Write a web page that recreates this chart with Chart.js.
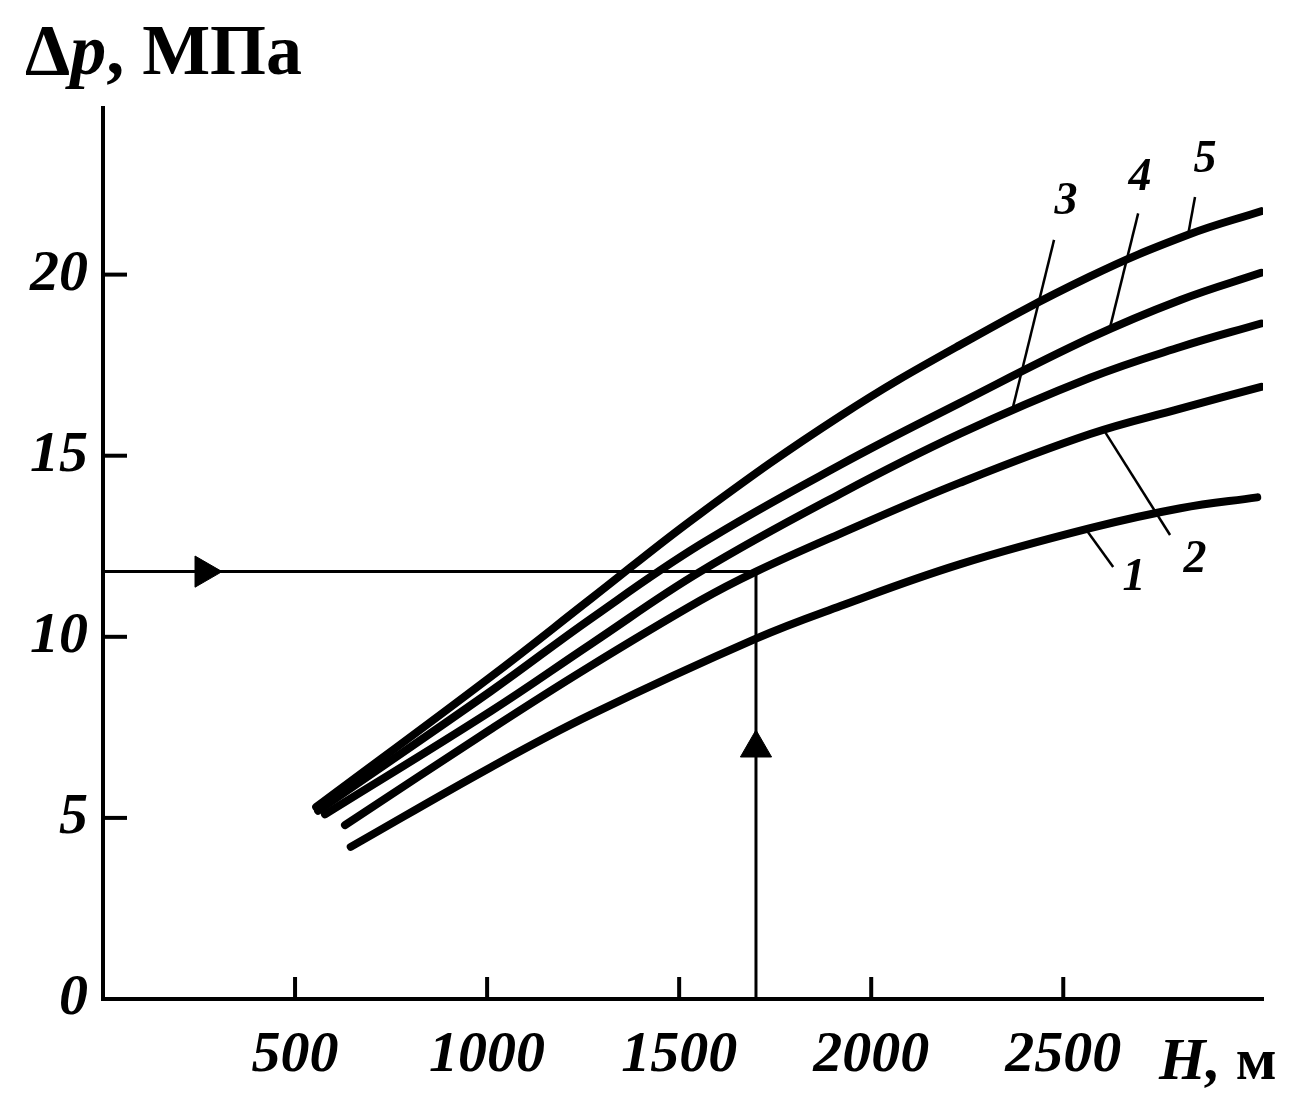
<!DOCTYPE html>
<html>
<head>
<meta charset="utf-8">
<script src="https://cdn.jsdelivr.net/npm/chart.js@4.4.0/dist/chart.umd.min.js"></script>
<style>
  body { margin: 0; background: #fff; }
  canvas { display: block; }
</style>
</head>
<body>
<canvas id="grafico" width="1307" height="1098"></canvas>
<script>
// dados: H (m) e Δp (MPa) de cada curva
var curva1H = [645, 1010, 1270, 1700, 1920, 2230, 2570, 2805, 3005];
var curva1P = [4.2, 6.4, 7.85, 9.95, 10.85, 12.0, 13.0, 13.55, 13.85];

var curva2H = [630, 1010, 1255, 1555, 1700, 1920, 2230, 2570, 2805, 3015];
var curva2P = [4.8, 7.45, 9.1, 11.0, 11.8, 12.85, 14.25, 15.6, 16.3, 16.9];

var curva3H = [578, 1010, 1270, 1555, 1920, 2230, 2570, 2805, 3015];
var curva3P = [5.1, 7.95, 9.8, 11.8, 13.95, 15.6, 17.15, 18.0, 18.65];

var curva4H = [560, 1010, 1270, 1555, 1920, 2230, 2570, 2805, 3015];
var curva4P = [5.2, 8.5, 10.5, 12.55, 14.75, 16.45, 18.25, 19.3, 20.05];

var curva5H = [555, 1010, 1270, 1555, 1920, 2230, 2570, 2825, 3015];
var curva5P = [5.3, 8.9, 11.05, 13.4, 16.1, 18.05, 19.95, 21.1, 21.75];

// linhas de construção (exemplo de leitura)
var leituraH = 1700;
var leituraP = 11.8;

// linhas de chamada dos números das curvas: [H1, P1, H2, P2]
var chamada1 = [2557, 13.0, 2630, 11.93];
var chamada2 = [2609, 15.65, 2778, 12.81];
var chamada3 = [2369, 16.34, 2476, 20.96];
var chamada4 = [2622, 18.55, 2695, 21.69];
var chamada5 = [2825, 21.1, 2843, 22.14];

// posição dos números 1..5
var numerosTexto = ["1", "2", "3", "4", "5"];
var numerosH = [2684, 2843, 2507, 2700, 2869];
var numerosP = [11.62, 12.12, 22.0, 22.67, 23.16];

var ticksX = [500, 1000, 1500, 2000, 2500];
var ticksY = [0, 5, 10, 15, 20];

function pontos(hs, ps) {
  var lista = [];
  for (var i = 0; i < hs.length; i++) {
    lista.push({ x: hs[i], y: ps[i] });
  }
  return lista;
}

function curva(hs, ps) {
  return {
    data: pontos(hs, ps),
    showLine: true,
    borderColor: "#000",
    borderWidth: 8,
    borderCapStyle: "round",
    pointRadius: 0,
    tension: 0.4,
  };
}

function linhaFina(h1, p1, h2, p2, largura) {
  return {
    data: [{ x: h1, y: p1 }, { x: h2, y: p2 }],
    showLine: true,
    borderColor: "#000",
    borderWidth: largura,
    pointRadius: 0,
  };
}

function seta(h, p, rotacao) {
  return {
    data: [{ x: h, y: p }],
    showLine: false,
    pointStyle: "triangle",
    rotation: rotacao,
    pointRadius: 18,
    backgroundColor: "#000",
    borderColor: "#000",
    borderWidth: 1,
  };
}

var fonteTicks = { family: "'Liberation Serif', 'Times New Roman', serif", size: 58, style: "italic", weight: "bold" };

// tracinhos dos eixos (para dentro) e textos
var pluginTextos = {
  id: "textos",
  afterDraw: function (chart) {
    var ctx = chart.ctx;
    var x = chart.scales.x;
    var y = chart.scales.y;
    var area = chart.chartArea;

    ctx.save();
    ctx.strokeStyle = "#000";
    ctx.lineWidth = 4;
    ticksX.forEach(function (v) {
      var px = x.getPixelForValue(v);
      ctx.beginPath();
      ctx.moveTo(px, area.bottom);
      ctx.lineTo(px, area.bottom - 22);
      ctx.stroke();
    });
    ticksY.forEach(function (v) {
      if (v == 0) return;
      var py = y.getPixelForValue(v);
      ctx.beginPath();
      ctx.moveTo(area.left, py);
      ctx.lineTo(area.left + 24, py);
      ctx.stroke();
    });

    ctx.fillStyle = "#000";
    ctx.textAlign = "center";
    ctx.textBaseline = "middle";
    ctx.font = "italic bold 46px 'Liberation Serif', serif";
    for (var i = 0; i < numerosTexto.length; i++) {
      ctx.fillText(numerosTexto[i], x.getPixelForValue(numerosH[i]), y.getPixelForValue(numerosP[i]));
    }

    // título do eixo Y
    ctx.textAlign = "left";
    ctx.textBaseline = "alphabetic";
    var tx = 25;
    var ty = 74;
    ctx.font = "bold 72px 'Liberation Serif', serif";
    ctx.fillText("Δ", tx, ty);
    tx += ctx.measureText("Δ").width;
    ctx.font = "italic bold 72px 'Liberation Serif', serif";
    ctx.fillText("p", tx, ty);
    tx += ctx.measureText("p").width;
    ctx.font = "bold 72px 'Liberation Serif', serif";
    ctx.fillText(", МПа", tx, ty);

    // título do eixo X
    var hx = area.right - 104;
    var hy = area.bottom + 80;
    ctx.font = "italic bold 60px 'Liberation Serif', serif";
    ctx.fillText("H,", hx, hy);
    hx += ctx.measureText("H, ").width;
    ctx.font = "bold 60px 'Liberation Serif', serif";
    ctx.fillText("м", hx, hy);
    ctx.restore();
  },
};

new Chart(document.getElementById("grafico"), {
  type: "scatter",
  data: {
    datasets: [
      curva(curva1H, curva1P),
      curva(curva2H, curva2P),
      curva(curva3H, curva3P),
      curva(curva4H, curva4P),
      curva(curva5H, curva5P),
      linhaFina(0, leituraP, leituraH, leituraP, 3),
      linhaFina(leituraH, 0, leituraH, leituraP, 3),
      seta(263, leituraP, 90),
      seta(leituraH, 6.93, 0),
      linhaFina(chamada1[0], chamada1[1], chamada1[2], chamada1[3], 2.5),
      linhaFina(chamada2[0], chamada2[1], chamada2[2], chamada2[3], 2.5),
      linhaFina(chamada3[0], chamada3[1], chamada3[2], chamada3[3], 2.5),
      linhaFina(chamada4[0], chamada4[1], chamada4[2], chamada4[3], 2.5),
      linhaFina(chamada5[0], chamada5[1], chamada5[2], chamada5[3], 2.5),
    ],
  },
  options: {
    responsive: false,
    animation: false,
    devicePixelRatio: 1,
    layout: { padding: { left: 0, right: 44, top: 108, bottom: 0 } },
    plugins: {
      legend: { display: false },
      tooltip: { enabled: false },
    },
    scales: {
      x: {
        type: "linear",
        min: 0,
        max: 3020,
        afterBuildTicks: function (scale) {
          scale.ticks = ticksX.map(function (v) { return { value: v }; });
        },
        afterFit: function (scale) {
          scale.height = 99;
        },
        grid: { display: false, drawTicks: false },
        border: { display: true, color: "#000", width: 4 },
        ticks: {
          color: "#000",
          font: fonteTicks,
          padding: 22,
          maxRotation: 0,
          callback: function (valor) {
            return String(valor);
          },
        },
      },
      y: {
        type: "linear",
        min: 0,
        max: 24.6,
        afterBuildTicks: function (scale) {
          scale.ticks = ticksY.map(function (v) { return { value: v }; });
        },
        afterFit: function (scale) {
          scale.width = 103;
        },
        grid: { display: false, drawTicks: false },
        border: { display: true, color: "#000", width: 4 },
        ticks: {
          color: "#000",
          font: fonteTicks,
          padding: 15,
          callback: function (valor) {
            return String(valor);
          },
        },
      },
    },
  },
  plugins: [pluginTextos],
});
</script>
</body>
</html>
